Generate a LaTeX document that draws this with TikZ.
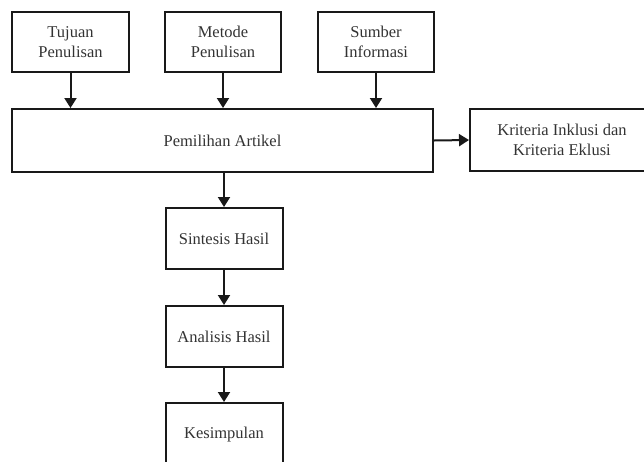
\documentclass[tikz,border=0pt]{standalone}
\usepackage{fontspec}
\setmainfont{Liberation Serif}
\usetikzlibrary{arrows.meta}
\begin{document}
\begin{tikzpicture}[x=1pt,y=-1pt,
  box/.style={draw=black!90,line width=2pt,rectangle,align=center,inner sep=0pt,
    font=\fontsize{16.5}{20}\selectfont,text=black!80},
  conn/.style={line width=2pt,draw=black!90,-{Triangle[length=10pt,width=12pt]}}]
\useasboundingbox (0,0) rectangle (644,461);
\clip (0,0) rectangle (644,461);
\node[box,minimum width=117pt,minimum height=60.5pt] (tuj) at (70.5,42) {Tujuan\\Penulisan};
\node[box,minimum width=116pt,minimum height=60.5pt] (met) at (223,42) {Metode\\Penulisan};
\node[box,minimum width=116pt,minimum height=60.5pt] (sum) at (376,42) {Sumber\\Informasi};
\node[box,minimum width=421pt,minimum height=63pt] (pem) at (222.5,140.5) {Pemilihan Artikel};
\node[box,minimum width=184pt,minimum height=62pt] (kri) at (562,140) {Kriteria Inklusi dan\\Kriteria Eklusi};
\node[box,minimum width=117pt,minimum height=61pt] (sin) at (224,238.5) {Sintesis Hasil};
\node[box,minimum width=117pt,minimum height=61pt] (ana) at (224,336.5) {Analisis Hasil};
\node[box,minimum width=117pt,minimum height=64pt] (kes) at (224,435) {Kesimpulan};
\draw[conn] (tuj.south) -- (tuj.south |- pem.north);
\draw[conn] (met.south) -- (met.south |- pem.north);
\draw[conn] (sum.south) -- (sum.south |- pem.north);
\draw[conn] (pem.east) -- (kri.west);
\draw[conn] (sin.north |- pem.south) -- (sin.north);
\draw[conn] (sin.south) -- (ana.north);
\draw[conn] (ana.south) -- (kes.north);
\end{tikzpicture}
\end{document}
